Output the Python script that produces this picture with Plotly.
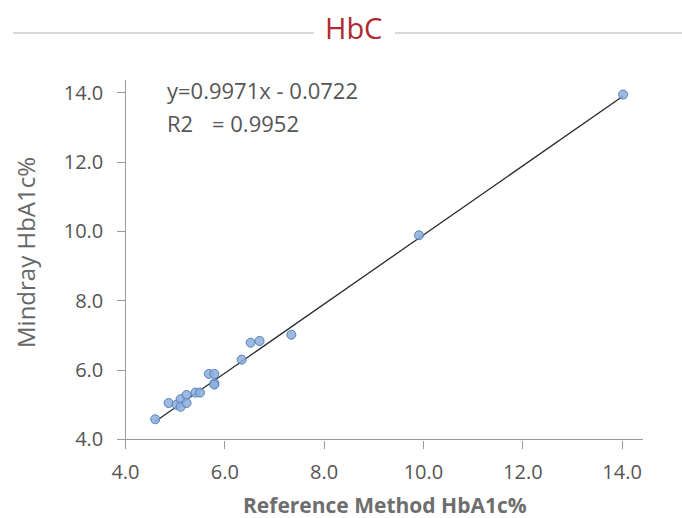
import plotly.graph_objects as go

# ---- data ----
ref_x = [4.60, 4.87, 5.03, 5.11, 5.11, 5.23, 5.23, 5.41, 5.50, 5.68, 5.79, 5.79, 5.79,
         6.34, 6.52, 6.70, 7.34, 9.91, 14.02]
mindray_y = [4.58, 5.05, 5.00, 5.16, 4.94, 5.28, 5.05, 5.35, 5.35, 5.89, 5.89, 5.62, 5.58,
             6.30, 6.79, 6.84, 7.02, 9.89, 13.95]
slope = 0.9971
intercept = -0.0722
r2 = 0.9952
tick_vals = [4, 6, 8, 10, 12, 14]
tick_text = ["4.0", "6.0", "8.0", "10.0", "12.0", "14.0"]
chart_title = "HbC"
x_title = "Reference Method HbA1c%"
y_title = "Mindray HbA1c%"

W, H = 682, 518
ML, MR, MT, MB = 117, 39, 80, 71
PW, PH = W - ML - MR, H - MT - MB
XR = [3.83, 14.42]
YR = [3.78, 14.37]


def px(x):
    return (x - ML) / PW


def py(y):
    return (H - MB - y) / PH


fit_x = [min(ref_x), max(ref_x)]
fit_y = [slope * v + intercept for v in fit_x]

fig = go.Figure()
fig.add_trace(go.Scatter(x=fit_x, y=fit_y, mode="lines",
                         line=dict(color="#2b2b2b", width=1.3), hoverinfo="skip"))
fig.add_trace(go.Scatter(x=ref_x, y=mindray_y, mode="markers",
                         marker=dict(size=9, color="rgba(140,174,220,0.85)",
                                     line=dict(color="#5580bb", width=1))))

font_family = "Open Sans, Noto Sans, sans-serif"
axis_col = "#9a9a9a"

fig.update_layout(
    width=W, height=H, showlegend=False,
    margin=dict(l=ML, r=MR, t=MT, b=MB, pad=0),
    paper_bgcolor="white", plot_bgcolor="white",
    font=dict(family=font_family, color="#555555"),
    xaxis=dict(range=XR, anchor="free", position=(4 - YR[0]) / (YR[1] - YR[0]),
               showgrid=False, zeroline=False, showline=True, linecolor=axis_col, linewidth=1.3,
               ticks="outside", ticklen=8, tickcolor=axis_col, tickwidth=1.2,
               tickvals=tick_vals, ticktext=tick_text, ticklabelstandoff=6,
               tickfont=dict(size=20, color="#555555")),
    yaxis=dict(range=YR, anchor="free", position=(4 - XR[0]) / (XR[1] - XR[0]),
               showgrid=False, zeroline=False, showline=True, linecolor=axis_col, linewidth=1.3,
               ticks="outside", ticklen=8, tickcolor=axis_col, tickwidth=1.2,
               tickvals=tick_vals, ticktext=tick_text, ticklabelstandoff=10,
               tickfont=dict(size=20, color="#555555")),
)

# header lines and title
for x0, x1 in [(13, 314), (395, 682)]:
    fig.add_shape(type="line", xref="paper", yref="paper",
                  x0=px(x0), x1=px(x1), y0=py(33), y1=py(33),
                  line=dict(color="#cccccc", width=1.5))

ann = []
ann.append(dict(text=chart_title, x=px(353), y=py(28), xanchor="center", yanchor="middle",
                font=dict(size=29, color="#b02a31")))
ann.append(dict(text=f"<b>{x_title}</b>", x=px(385), y=py(505), xanchor="center", yanchor="middle",
                font=dict(size=21, color="#6e6e6e")))
ann.append(dict(text=y_title, x=px(25), y=py(253), xanchor="center", yanchor="middle",
                textangle=-90, font=dict(size=24, color="#666666")))
sign = "-" if intercept < 0 else "+"
ann.append(dict(text=f"y={slope:.4f}x {sign} {abs(intercept):.4f}", x=px(165), y=py(90),
                xanchor="left", yanchor="middle", font=dict(size=22, color="#555555")))
ann.append(dict(text="R2", x=px(165), y=py(123), xanchor="left", yanchor="middle",
                font=dict(size=22, color="#555555")))
ann.append(dict(text=f"= {r2:.4f}", x=px(210), y=py(123), xanchor="left", yanchor="middle",
                font=dict(size=22, color="#555555")))
for a in ann:
    a.update(xref="paper", yref="paper", showarrow=False)
fig.update_layout(annotations=ann)

fig.write_html("out.html")
